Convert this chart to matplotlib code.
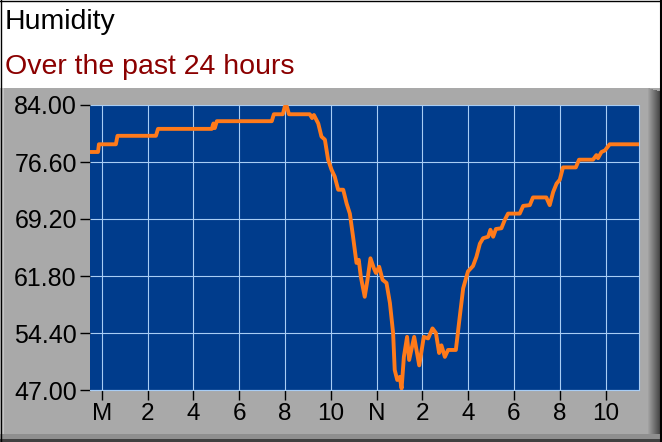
import matplotlib
matplotlib.use("Agg")
import matplotlib.pyplot as plt
from matplotlib.patches import Rectangle
import numpy as np

# ---- data ----
hours = [-0.52, -0.17, -0.13, 0.61, 0.68, 2.36, 2.45, 4.80, 4.87, 4.93, 5.02, 7.42, 7.51,
         7.90, 7.99, 8.08, 8.17, 9.08, 9.18, 9.26, 9.45, 9.59, 9.74, 9.88, 10.03, 10.17,
         10.32, 10.54, 10.69, 10.83, 10.97, 11.12, 11.22, 11.31, 11.48, 11.60, 11.73, 11.88,
         11.97, 12.11, 12.26, 12.43, 12.58, 12.72, 12.79, 12.90, 13.01, 13.09, 13.19, 13.33,
         13.42, 13.64, 13.86, 14.06, 14.25, 14.44, 14.59, 14.73, 14.83, 14.98, 15.12, 15.46,
         15.63, 15.78, 15.99, 16.21, 16.36, 16.51, 16.65, 16.87, 16.97, 17.09, 17.21, 17.45,
         17.60, 17.74, 18.25, 18.40, 18.69, 18.83, 19.41, 19.56, 19.71, 19.86, 20.00, 20.14,
         20.70, 20.84, 21.45, 21.60, 21.67, 21.82, 21.97, 22.18, 23.46]
humidity = [77.9, 77.9, 78.9, 78.9, 80.0, 80.0, 80.9, 80.9, 81.6, 81.0, 81.9, 81.9, 82.8,
            82.8, 83.8, 83.8, 82.8, 82.8, 82.3, 82.7, 81.6, 79.9, 79.5, 76.9, 75.6, 74.7,
            73.0, 73.0, 71.2, 69.9, 66.9, 63.5, 63.9, 61.7, 59.1, 61.3, 64.1, 62.8,
            62.2, 63.0, 61.3, 60.9, 58.3, 54.4, 49.6, 48.3, 48.7, 47.2, 51.3, 53.9,
            50.9, 53.9, 50.2, 53.9, 53.7, 55.0, 54.4, 51.8, 52.8, 51.3, 52.2, 52.2,
            56.5, 60.2, 62.4, 63.1, 64.3, 66.0, 66.7, 66.9, 67.8, 66.9, 67.9, 68.0,
            69.1, 69.9, 69.9, 70.9, 71.0, 72.0, 72.0, 71.0, 72.7, 73.8, 74.3, 75.9,
            75.9, 76.9, 76.9, 77.5, 77.1, 77.9, 78.1, 78.9, 78.9]
x_ticks = [0, 2, 4, 6, 8, 10, 12, 14, 16, 18, 20, 22]
x_labels = ["M", "2", "4", "6", "8", "10", "N", "2", "4", "6", "8", "10"]
y_ticks = [47.0, 54.4, 61.8, 69.2, 76.6, 84.0]
title = "Humidity"
subtitle = "Over the past 24 hours"

W, H = 662, 442
plt.rcParams['font.family'] = ['Liberation Sans', 'DejaVu Sans']
fig = plt.figure(figsize=(W / 100, H / 100), dpi=100, facecolor="white")

def fx(px):
    return px / W

def fy(py):
    return 1 - py / H

# background panel
bg = fig.add_axes([0, 0, 1, 1], zorder=-10)
bg.set_xlim(0, W)
bg.set_ylim(H, 0)
bg.axis("off")
bg.add_patch(Rectangle((0, 88), W, H - 88, color="#a9a9a9", lw=0))
bg.add_patch(Rectangle((0, 88), 4, H - 88, color="#c4c4c4", lw=0))
# right shading
shades = ["#a0a0a0", "#989898", "#909090", "#888888", "#808080", "#787878", "#707070",
          "#686868", "#606060", "#585858", "#505050", "#484848"]
for i, c in enumerate(shades):
    bg.add_patch(Rectangle((648 + i, 88 + i * 0.3), 1.2, H - 88, color=c, lw=0))
bg.add_patch(Rectangle((0, 434), W, 8, color="#8f8f8f", lw=0))
bg.add_patch(Rectangle((0, 439), W, 3, color="#404040", lw=0))
bg.plot([0.5, 0.5], [0, H], color="black", lw=1)
bg.plot([0, W], [0.5, 0.5], color="black", lw=1)
bg.plot([W - 1.5, W - 1.5], [0, H], color="black", lw=1.5)

fig.text(fx(5), fy(29), title, fontsize=20.5, color="black", ha="left", va="baseline")
fig.text(fx(5), fy(74), subtitle, fontsize=20.5, color="#8b0000", ha="left", va="baseline")

# plot area
L, R, T, B = 90, 639, 105, 390
ax = fig.add_axes([fx(L), fy(B), (R - L) / W, (B - T) / H])
ax.set_facecolor("#003c8c")
grid_c = "#a8cdf5"
ax.plot(hours, humidity, color="#ff7a1a", lw=2.8, solid_joinstyle="round", zorder=3)
ax.set_xlim(-0.52, 23.46)
ax.set_ylim(47.0, 84.0)
ax.set_xticks(x_ticks)
ax.set_xticklabels(x_labels)
ax.set_yticks(y_ticks)
ax.set_yticklabels([f"{v:.2f}" for v in y_ticks])
ax.grid(True, color=grid_c, lw=0.8, zorder=1)
for s in ax.spines.values():
    s.set_color(grid_c)
    s.set_linewidth(0.8)
ax.spines["top"].set_visible(False)
ax.spines["left"].set_visible(False)
ax.tick_params(axis="x", direction="out", length=7.5, width=1, color="black",
               labelsize=17.5, pad=2, labelcolor="black")
ax.tick_params(axis="y", direction="out", length=7.5, width=1, color="black",
               labelsize=18, pad=2, labelcolor="black")

fig.savefig("out.png", dpi=100, facecolor="white")
